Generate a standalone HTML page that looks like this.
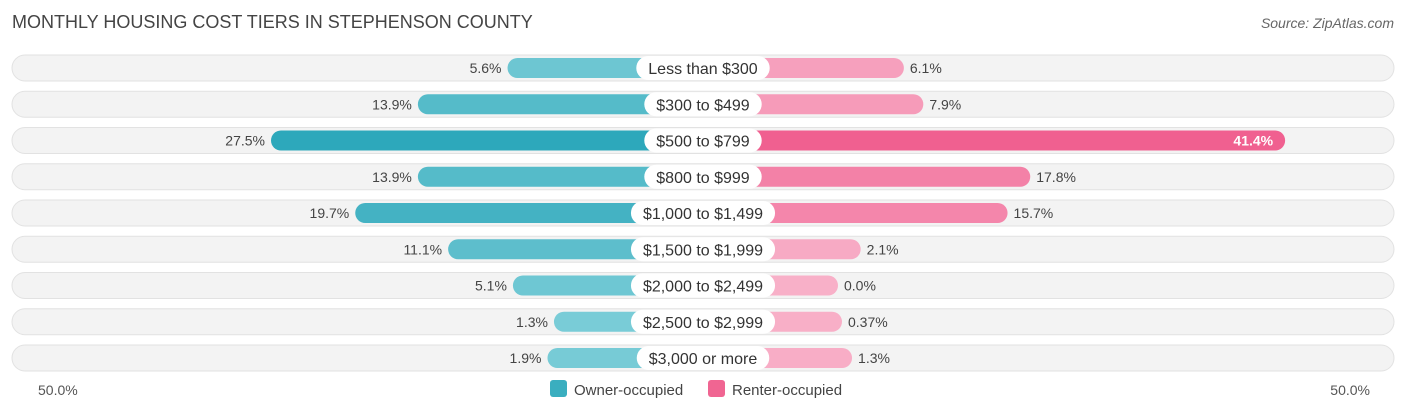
<!DOCTYPE html>
<html><head><meta charset="utf-8"><style>
body{margin:0;background:#fff;font-family:"Liberation Sans",sans-serif;}
svg text{font-family:"Liberation Sans",sans-serif;}
</style></head><body>
<svg id="chart" width="1406" height="414" xmlns="http://www.w3.org/2000/svg">
<text x="12" y="28" font-size="18" fill="#444">MONTHLY HOUSING COST TIERS IN STEPHENSON COUNTY</text>
<text x="1394" y="28" font-size="14" fill="#666" font-style="italic" text-anchor="end">Source: ZipAtlas.com</text>
<g id="rows"></g>
<text x="38" y="395" font-size="14" fill="#555">50.0%</text>
<text x="1370" y="395" font-size="14" fill="#555" text-anchor="end">50.0%</text>
<g>
<rect x="550" y="380" width="17" height="17" rx="3" fill="#3aaebf"/>
<text x="574" y="395" font-size="15" fill="#444">Owner-occupied</text>
<rect x="708" y="380" width="17" height="17" rx="3" fill="#f06592"/>
<text x="732" y="395" font-size="15" fill="#444">Renter-occupied</text>
</g>
</svg>
<script>
const categories=["Less than $300","$300 to $499","$500 to $799","$800 to $999","$1,000 to $1,499","$1,500 to $1,999","$2,000 to $2,499","$2,500 to $2,999","$3,000 or more"];
const ownerValues=[5.6,13.9,27.5,13.9,19.7,11.1,5.1,1.3,1.9];
const renterValues=[6.1,7.9,41.4,17.8,15.7,2.1,0.0,0.37,1.3];
const ownerLabels=["5.6%","13.9%","27.5%","13.9%","19.7%","11.1%","5.1%","1.3%","1.9%"];
const renterLabels=["6.1%","7.9%","41.4%","17.8%","15.7%","2.1%","0.0%","0.37%","1.3%"];
const NS="http://www.w3.org/2000/svg";
const cx=703,base=135,scale=10.8;
function len(v){return base+v*scale;}
function rowY(i){return 68+i*36.25;}
function mix(a,b,t){return a.map((x,k)=>Math.round(x+(b[k]-x)*t));}
function col(v,light,dark){const t=Math.min(1,v/30);const c=mix(light,dark,t);return `rgb(${c[0]},${c[1]},${c[2]})`;}
const g=document.getElementById('rows');
function mk(tag,attrs,parent){const e=document.createElementNS(NS,tag);for(const k in attrs)e.setAttribute(k,attrs[k]);parent.appendChild(e);return e;}
categories.forEach((c,i)=>{
 const y=rowY(i);
 const row=mk('g',{},g);
 
 
 const bg=mk('rect',{x:12,y:y-13,width:1382,height:26,rx:13,fill:'#f3f3f3',stroke:'#e2e2e2','stroke-width':1},row);
 
 
 const lo=len(ownerValues[i]);
 const ob=mk('rect',{x:cx-lo,y:y-10,width:lo,height:20,rx:10,fill:col(ownerValues[i],[125,206,216],[38,164,184])},row);
 
 
 const lr=len(renterValues[i]);
 const rb=mk('rect',{x:cx,y:y-10,width:lr,height:20,rx:10,fill:col(renterValues[i],[248,176,200],[240,96,144])},row);
 
 
 const ot=mk('text',{x:cx-lo-6,y:y+5,'font-size':14,fill:'#444','text-anchor':'end'},row);
 ot.textContent=ownerLabels[i];
 
 
 let rt;
 if(renterValues[i]>35){
  rt=mk('text',{x:cx+lr-12,y:y+5,'font-size':14,fill:'#fff','font-weight':'bold','text-anchor':'end'},row);
 } else {
  rt=mk('text',{x:cx+lr+6,y:y+5,'font-size':14,fill:'#444'},row);
 }
 rt.textContent=renterLabels[i];
 
 
 const pill=mk('rect',{x:cx,y:y-12,width:10,height:24,rx:12,fill:'#fff'},row);
 
 
 const lt=mk('text',{x:cx,y:y+6,'font-size':16,fill:'#333','text-anchor':'middle'},row);
 lt.textContent=c;
 
 
 const w=lt.getComputedTextLength()+24;
 pill.setAttribute('x',cx-w/2);
 pill.setAttribute('width',w);
});
</script>
</body></html>
